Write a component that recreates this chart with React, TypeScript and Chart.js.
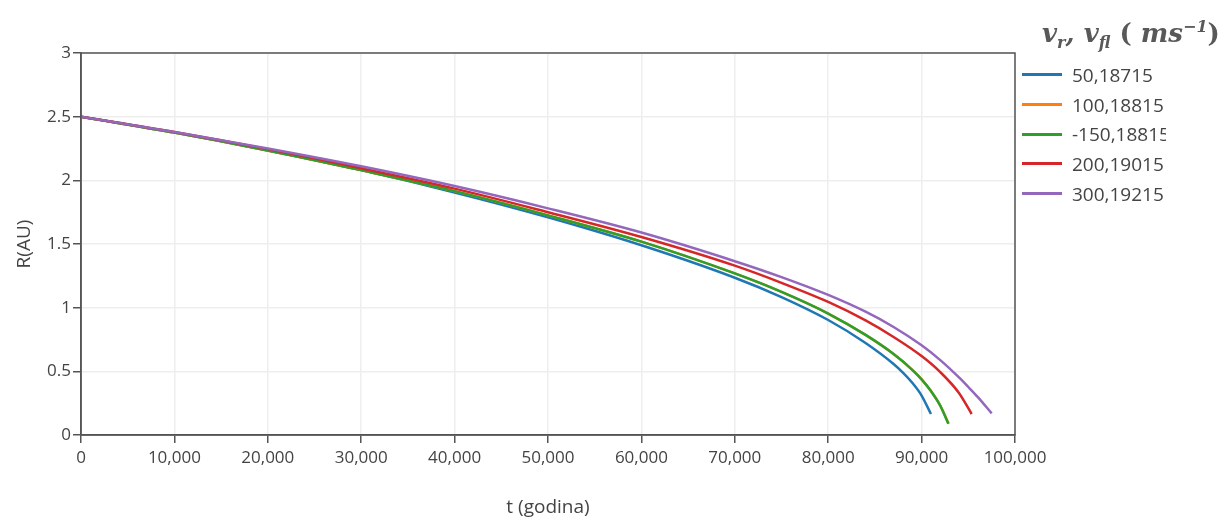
import React, { useEffect, useRef } from "react";
import { Chart, registerables } from "chart.js";

Chart.register(...registerables);

const seriesLabels = ["50,18715", "100,18815", "-150,18815", "200,19015", "300,19215"];
const seriesColors = ["#1f77b4", "#ff7f0e", "#2ca02c", "#d62728", "#9467bd"];

const tBlue = [0, 10000, 20000, 30000, 40000, 50000, 60000, 70000, 75000, 80000, 84000, 87000, 88000, 89000, 90000, 91000];
const rBlue = [2.5, 2.375, 2.235, 2.08, 1.905, 1.71, 1.49, 1.235, 1.083, 0.903, 0.723, 0.558, 0.49, 0.41, 0.31, 0.165];

const tOrange = [0, 10000, 20000, 30000, 40000, 50000, 60000, 70000, 75000, 80000, 84000, 87000, 89000, 90000, 91000, 92000, 92900];
const rOrange = [2.5, 2.375, 2.235, 2.08, 1.915, 1.725, 1.519, 1.269, 1.124, 0.954, 0.786, 0.636, 0.512, 0.437, 0.345, 0.23, 0.088];

const tGreen = [0, 10000, 20000, 30000, 40000, 50000, 60000, 70000, 75000, 80000, 84000, 87000, 89000, 90000, 91000, 92000, 92860];
const rGreen = [2.5, 2.375, 2.235, 2.08, 1.915, 1.725, 1.519, 1.269, 1.124, 0.954, 0.786, 0.636, 0.512, 0.437, 0.345, 0.23, 0.088];

const tRed = [0, 10000, 20000, 30000, 40000, 50000, 60000, 70000, 75000, 80000, 84000, 87000, 90000, 92000, 94000, 95360];
const rRed = [2.5, 2.38, 2.245, 2.095, 1.935, 1.75, 1.555, 1.33, 1.195, 1.045, 0.9, 0.77, 0.62, 0.494, 0.33, 0.165];

const tPurple = [0, 10000, 20000, 30000, 40000, 50000, 60000, 70000, 75000, 80000, 84000, 87000, 90000, 92000, 94000, 95000, 96000, 97500];
const rPurple = [2.5, 2.38, 2.25, 2.11, 1.955, 1.78, 1.59, 1.365, 1.24, 1.1, 0.968, 0.848, 0.704, 0.588, 0.452, 0.377, 0.299, 0.17];

const xTicks = [0, 10000, 20000, 30000, 40000, 50000, 60000, 70000, 80000, 90000, 100000];
const yTicks = [0, 0.5, 1, 1.5, 2, 2.5, 3];

const allT = [tBlue, tOrange, tGreen, tRed, tPurple];
const allR = [rBlue, rOrange, rGreen, rRed, rPurple];
const drawOrder = [5, 4, 3, 2, 1];

const W = 1225;
const H = 522;
const AREA = { left: 81, right: 1015, top: 53, bottom: 435 };

const boxPlugin = {
  id: "plotBox",
  afterDatasetsDraw(chart: any) {
    const { ctx, chartArea } = chart;
    ctx.save();
    ctx.strokeStyle = "#555";
    ctx.lineWidth = 1.5;
    ctx.strokeRect(chartArea.left, chartArea.top, chartArea.right - chartArea.left, chartArea.bottom - chartArea.top);
    ctx.restore();
  },
};

export default function App() {
  const ref = useRef<HTMLCanvasElement | null>(null);

  useEffect(() => {
    if (!ref.current) return;
    const datasets = seriesLabels.map((label, i) => ({
      label,
      data: allT[i].map((t, j) => ({ x: t, y: allR[i][j] })),
      borderColor: seriesColors[i],
      backgroundColor: seriesColors[i],
      borderWidth: 2.5,
      pointRadius: 0,
      fill: false,
      cubicInterpolationMode: "monotone" as const,
      order: drawOrder[i],
    }));
    const chart = new Chart(ref.current, {
      type: "line",
      data: { datasets },
      options: {
        animation: false,
        responsive: false,
        maintainAspectRatio: false,
        layout: {
          padding: { left: 0, top: AREA.top, right: W - AREA.right, bottom: 0 },
        },
        plugins: {
          legend: { display: false },
          tooltip: { enabled: false },
        },
        scales: {
          x: {
            type: "linear",
            min: 0,
            max: 100000,
            afterBuildTicks: (scale: any) => {
              scale.ticks = xTicks.map((v) => ({ value: v }));
            },
            afterFit: (scale: any) => {
              scale.height = H - AREA.bottom;
            },
            ticks: {
              color: "#444",
              font: { family: "'Open Sans'", size: 17 },
              padding: 5,
              maxRotation: 0,
              autoSkip: false,
              callback: (v: any) => Number(v).toLocaleString("en-US"),
            },
            grid: {
              color: "#eeeeee",
              lineWidth: 1.5,
              tickColor: "#555",
              tickLength: 8,
              tickWidth: 1.5,
            },
            border: { display: true, color: "#555", width: 1.5 },
            title: {
              display: true,
              text: "t (godina)",
              color: "#444",
              font: { family: "'Open Sans'", size: 19 },
              padding: { top: 0, bottom: 3 },
            },
          },
          y: {
            type: "linear",
            min: 0,
            max: 3,
            afterBuildTicks: (scale: any) => {
              scale.ticks = yTicks.map((v) => ({ value: v }));
            },
            afterFit: (scale: any) => {
              scale.width = AREA.left;
            },
            ticks: {
              color: "#444",
              font: { family: "'Open Sans'", size: 17 },
              padding: 2,
              autoSkip: false,
              callback: (v: any) => String(v),
            },
            grid: {
              color: "#eeeeee",
              lineWidth: 1.5,
              tickColor: "#555",
              tickLength: 8,
              tickWidth: 1.5,
            },
            border: { display: true, color: "#555", width: 1.5 },
            title: {
              display: true,
              text: "R(AU)",
              color: "#444",
              font: { family: "'Open Sans'", size: 19 },
              padding: { top: 13, bottom: 0 },
            },
          },
        },
      },
      plugins: [boxPlugin],
    });
    return () => chart.destroy();
  }, []);

  return (
    <div
      style={{
        position: "fixed",
        left: 0,
        top: 0,
        width: W,
        height: H,
        background: "#fff",
        overflow: "hidden",
      }}
    >
      <canvas ref={ref} width={W} height={H} style={{ position: "absolute", left: 0, top: 0, width: W, height: H }} />
      <div
        style={{
          position: "absolute",
          left: 1042,
          top: 7,
          whiteSpace: "nowrap",
          fontFamily: "'DejaVu Serif', serif",
          fontStyle: "italic",
          fontWeight: 700,
          fontSize: 26,
          color: "#595959",
          lineHeight: "40px",
        }}
      >
        v<sub style={{ fontSize: 16 }}>r</sub>, v<sub style={{ fontSize: 16 }}>fl</sub>
        <span style={{ fontStyle: "normal" }}> ( </span>ms<sup style={{ fontSize: 16 }}>−1</sup>
        <span style={{ fontStyle: "normal" }}>)</span>
      </div>
      <div
        style={{
          position: "absolute",
          left: 1018,
          top: 60,
          width: 148,
          overflow: "hidden",
          fontFamily: "'Open Sans'",
          fontSize: 19,
          color: "#444",
        }}
      >
        {seriesLabels.map((label, i) => (
          <div key={label} style={{ display: "flex", alignItems: "center", height: 29.7, whiteSpace: "nowrap" }}>
            <div style={{ width: 40, height: 3, background: seriesColors[i], marginLeft: 4, marginRight: 10, flex: "none" }} />
            <span>{label}</span>
          </div>
        ))}
      </div>
    </div>
  );
}
